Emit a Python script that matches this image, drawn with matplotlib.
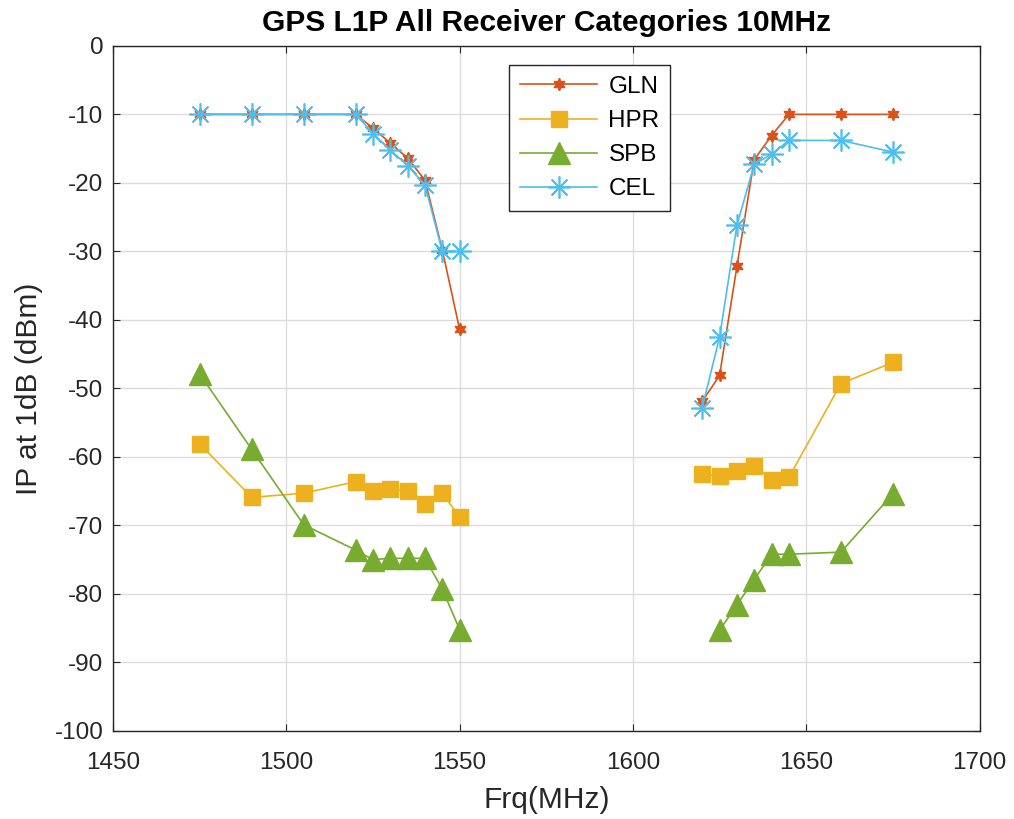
import matplotlib
matplotlib.use("Agg")
import matplotlib.pyplot as plt

plt.rcParams['font.family'] = ['Liberation Sans', 'DejaVu Sans']
plt.rcParams['axes.unicode_minus'] = False

freq_gln = [1475, 1490, 1505, 1520, 1525, 1530, 1535, 1540, 1545, 1550,
            None, 1620, 1625, 1630, 1635, 1640, 1645, 1660, 1675]
gln = [-10, -10, -10, -10, -12.0, -14.2, -16.4, -19.6, -29.8, -41.4,
       None, -51.9, -48.1, -32.2, -16.6, -13.1, -10, -10, -10]

freq_hpr = [1475, 1490, 1505, 1520, 1525, 1530, 1535, 1540, 1545, 1550,
            None, 1620, 1625, 1630, 1635, 1640, 1645, 1660, 1675]
hpr = [-58.1, -65.9, -65.3, -63.6, -65.0, -64.7, -65.0, -66.8, -65.3, -68.8,
       None, -62.5, -62.8, -62.1, -61.3, -63.3, -63.0, -49.3, -46.2]

freq_spb = [1475, 1490, 1505, 1520, 1525, 1530, 1535, 1540, 1545, 1550,
            None, 1625, 1630, 1635, 1640, 1645, 1660, 1675]
spb = [-47.9, -58.9, -69.9, -73.6, -75.0, -74.8, -74.8, -74.8, -79.3, -85.2,
       None, -85.3, -81.6, -77.9, -74.2, -74.2, -73.9, -65.4]

freq_cel = [1475, 1490, 1505, 1520, 1525, 1530, 1535, 1540, 1545, 1550,
            None, 1620, 1625, 1630, 1635, 1640, 1645, 1660, 1675]
cel = [-10, -10, -10, -10, -12.8, -15.2, -17.5, -20.3, -30, -30,
       None, -52.8, -42.5, -26.2, -17.3, -15.8, -13.8, -13.8, -15.5]

def clean(v):
    return [float('nan') if a is None else a for a in v]

fig = plt.figure(figsize=(10.14, 8.19), dpi=100)
ax = fig.add_axes([0.1115, 0.1075, 0.8545, 0.8365])

ax.plot(clean(freq_gln), clean(gln), color='#D95319', lw=1.2, marker=(6, 1, 0),
        ms=9, label='GLN')
ax.plot(clean(freq_hpr), clean(hpr), color='#EDB120', lw=1.2, marker='s',
        ms=12, label='HPR')
ax.plot(clean(freq_spb), clean(spb), color='#77AC30', lw=1.2, marker='^',
        ms=16, label='SPB')
ax.plot(clean(freq_cel), clean(cel), color='#4DBEEE', lw=1.2, marker=(8, 2, 0),
        ms=16, mew=1.2, label='CEL')

ax.set_xlim(1450, 1700)
ax.set_ylim(-100, 0)
ax.set_xticks(range(1450, 1701, 50))
ax.set_yticks(range(-100, 1, 10))
ax.grid(True, color='#DCDCDC', lw=1)
ax.set_axisbelow(True)
ax.tick_params(direction='in', labelsize=17.5, colors='#262626', length=5,
               top=True, right=True)
ax.tick_params(axis='x', pad=15)
ax.tick_params(axis='y', pad=7)
for s in ax.spines.values():
    s.set_color('#262626')
    s.set_linewidth(1)

ax.set_xlabel('Frq(MHz)', fontsize=21.5, color='#262626', labelpad=9)
ax.set_ylabel('IP at 1dB (dBm)', fontsize=21.5, color='#262626', labelpad=8)
ax.set_title('GPS L1P All Receiver Categories 10MHz', fontsize=21.5,
             fontweight='bold', color='#000000', pad=11)

leg = ax.legend(loc='upper center', bbox_to_anchor=(0.55, 0.972), fontsize=17.5,
                fancybox=False, edgecolor='#262626', framealpha=1,
                handlelength=3.2, borderpad=0.45, labelspacing=0.5,
                handletextpad=0.45, borderaxespad=0)
leg.get_frame().set_linewidth(1)

fig.savefig('out.png', dpi=100)
